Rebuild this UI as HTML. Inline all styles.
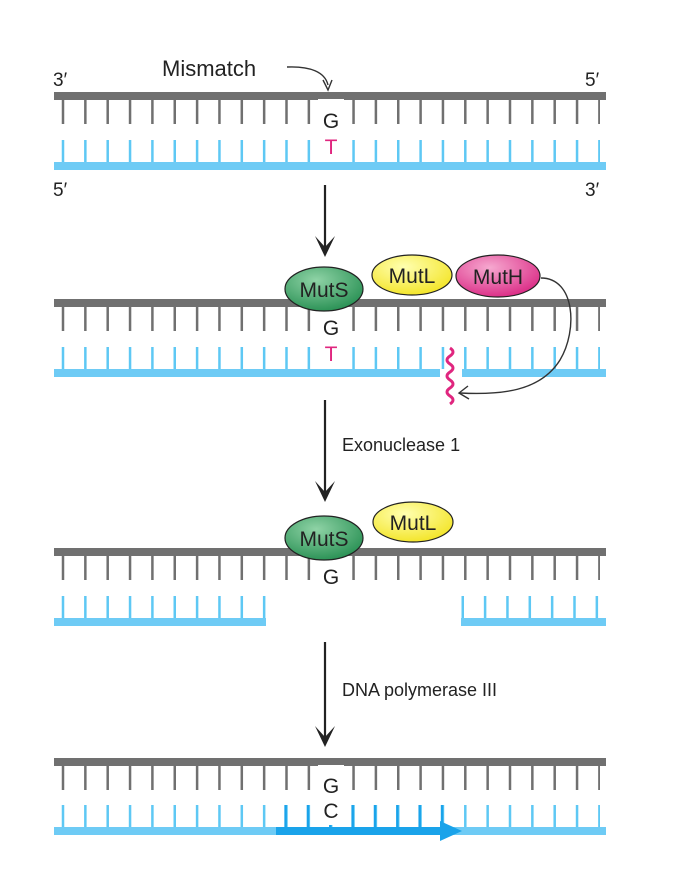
<!DOCTYPE html>
<html><head><meta charset="utf-8"><style>
html,body{margin:0;padding:0;background:#fff;}
svg{display:block;}
text{font-family:"Liberation Sans","DejaVu Sans",sans-serif;}
</style></head><body>
<svg width="674" height="890" viewBox="0 0 674 890" xmlns="http://www.w3.org/2000/svg">
<defs>
<radialGradient id="gs" cx="0.4" cy="0.3" r="0.8"><stop offset="0" stop-color="#8fd3a6"/><stop offset="1" stop-color="#1f8a4c"/></radialGradient>
<radialGradient id="gl" cx="0.4" cy="0.3" r="0.8"><stop offset="0" stop-color="#ffffb0"/><stop offset="1" stop-color="#f2e21a"/></radialGradient>
<radialGradient id="gh" cx="0.4" cy="0.3" r="0.8"><stop offset="0" stop-color="#f6a9d0"/><stop offset="1" stop-color="#d81f7e"/></radialGradient>
</defs>

<!-- Row 1 -->
<text x="53" y="86" font-size="19" fill="#222">3′</text>
<text x="585" y="86" font-size="19" fill="#222">5′</text>
<text x="162" y="76" font-size="22" fill="#222">Mismatch</text>
<path d="M287 67 C310 66 325 72 328 85" fill="none" stroke="#333" stroke-width="1.4"/>
<path d="M323 80 L328 90 L332 80" fill="none" stroke="#333" stroke-width="1.4"/>
<rect x="54" y="92" width="552" height="8" fill="#707070"/>
<line x1="61.75" y1="112" x2="600" y2="112" stroke="#707070" stroke-width="24" stroke-dasharray="2.5 19.85"/>
<line x1="61.75" y1="151" x2="600" y2="151" stroke="#5ec8f4" stroke-width="22" stroke-dasharray="2.5 19.85"/>
<rect x="318" y="99" width="26" height="64" fill="#fff"/>
<text x="331" y="128" font-size="21" fill="#222" text-anchor="middle">G</text>
<text x="331" y="154" font-size="21" fill="#e0267f" text-anchor="middle">T</text>
<rect x="54" y="162" width="552" height="8" fill="#6ecbf5"/>
<text x="53" y="196" font-size="19" fill="#222">5′</text>
<text x="585" y="196" font-size="19" fill="#222">3′</text>

<!-- arrow 1 -->
<line x1="325" y1="185" x2="325" y2="250" stroke="#222" stroke-width="2.2"/>
<path d="M315 236 L325 257 L335 236 L325 247 Z" fill="#222"/>

<!-- Row 2 -->
<rect x="54" y="299" width="552" height="8" fill="#707070"/>
<line x1="61.75" y1="319" x2="600" y2="319" stroke="#707070" stroke-width="24" stroke-dasharray="2.5 19.85"/>
<line x1="61.75" y1="358" x2="600" y2="358" stroke="#5ec8f4" stroke-width="22" stroke-dasharray="2.5 19.85"/>
<rect x="318" y="306" width="26" height="64" fill="#fff"/>
<text x="331" y="335" font-size="21" fill="#222" text-anchor="middle">G</text>
<text x="331" y="361" font-size="21" fill="#e0267f" text-anchor="middle">T</text>
<rect x="54" y="369" width="386" height="8" fill="#6ecbf5"/>
<rect x="462" y="369" width="144" height="8" fill="#6ecbf5"/>
<path d="M450 348 q6 4 0 8 q-6 4 0 8 q6 4 0 8 q-6 4 0 8 q6 4 0 8 q-6 4 0 8 q6 4 0 8" fill="none" stroke="#e0267f" stroke-width="3"/>
<path d="M541 278 C575 278 578 330 560 360 C540 392 500 395 460 393" fill="none" stroke="#333" stroke-width="1.4"/>
<path d="M468 386 L459 393 L469 399" fill="none" stroke="#333" stroke-width="1.4"/>
<ellipse cx="324" cy="289" rx="39" ry="22" fill="url(#gs)" stroke="#222" stroke-width="1.2"/>
<text x="324" y="297" font-size="21" fill="#222" text-anchor="middle">MutS</text>
<ellipse cx="412" cy="275" rx="40" ry="20" fill="url(#gl)" stroke="#222" stroke-width="1.2"/>
<text x="412" y="283" font-size="21" fill="#222" text-anchor="middle">MutL</text>
<ellipse cx="498" cy="276" rx="42" ry="21" fill="url(#gh)" stroke="#222" stroke-width="1.2"/>
<text x="498" y="284" font-size="21" fill="#222" text-anchor="middle">MutH</text>

<!-- arrow 2 -->
<line x1="325" y1="400" x2="325" y2="495" stroke="#222" stroke-width="2.2"/>
<path d="M315 481 L325 502 L335 481 L325 492 Z" fill="#222"/>
<text x="342" y="451" font-size="18" fill="#222">Exonuclease 1</text>

<!-- Row 3 -->
<rect x="54" y="548" width="552" height="8" fill="#707070"/>
<line x1="61.75" y1="568" x2="600" y2="568" stroke="#707070" stroke-width="24" stroke-dasharray="2.5 19.85"/>
<rect x="318" y="555" width="26" height="30" fill="#fff"/>
<text x="331" y="584" font-size="21" fill="#222" text-anchor="middle">G</text>
<line x1="61.75" y1="607" x2="266" y2="607" stroke="#5ec8f4" stroke-width="22" stroke-dasharray="2.5 19.85"/>
<line x1="461.5" y1="607" x2="600" y2="607" stroke="#5ec8f4" stroke-width="22" stroke-dasharray="2.5 19.85"/>
<rect x="54" y="618" width="212" height="8" fill="#6ecbf5"/>
<rect x="461" y="618" width="145" height="8" fill="#6ecbf5"/>
<ellipse cx="324" cy="538" rx="39" ry="22" fill="url(#gs)" stroke="#222" stroke-width="1.2"/>
<text x="324" y="546" font-size="21" fill="#222" text-anchor="middle">MutS</text>
<ellipse cx="413" cy="522" rx="40" ry="20" fill="url(#gl)" stroke="#222" stroke-width="1.2"/>
<text x="413" y="530" font-size="21" fill="#222" text-anchor="middle">MutL</text>

<!-- arrow 3 -->
<line x1="325" y1="642" x2="325" y2="740" stroke="#222" stroke-width="2.2"/>
<path d="M315 726 L325 747 L335 726 L325 737 Z" fill="#222"/>
<text x="342" y="696" font-size="18" fill="#222">DNA polymerase III</text>

<!-- Row 4 -->
<rect x="54" y="758" width="552" height="8" fill="#707070"/>
<line x1="61.75" y1="778" x2="600" y2="778" stroke="#707070" stroke-width="24" stroke-dasharray="2.5 19.85"/>
<line x1="61.75" y1="816" x2="600" y2="816" stroke="#5ec8f4" stroke-width="22" stroke-dasharray="2.5 19.85"/>
<line x1="284.35" y1="816" x2="445" y2="816" stroke="#1aa3ea" stroke-width="22" stroke-dasharray="2.5 19.85"/>
<rect x="318" y="765" width="26" height="60" fill="#fff"/>
<text x="331" y="793" font-size="21" fill="#222" text-anchor="middle">G</text>
<text x="331" y="818" font-size="21" fill="#222" text-anchor="middle">C</text>
<rect x="54" y="827" width="552" height="8" fill="#6ecbf5"/>
<rect x="276" y="827" width="168" height="8" fill="#1aa3ea"/>
<path d="M440 821 L462 831 L440 841 Z" fill="#1aa3ea"/>
</svg>
</body></html>
